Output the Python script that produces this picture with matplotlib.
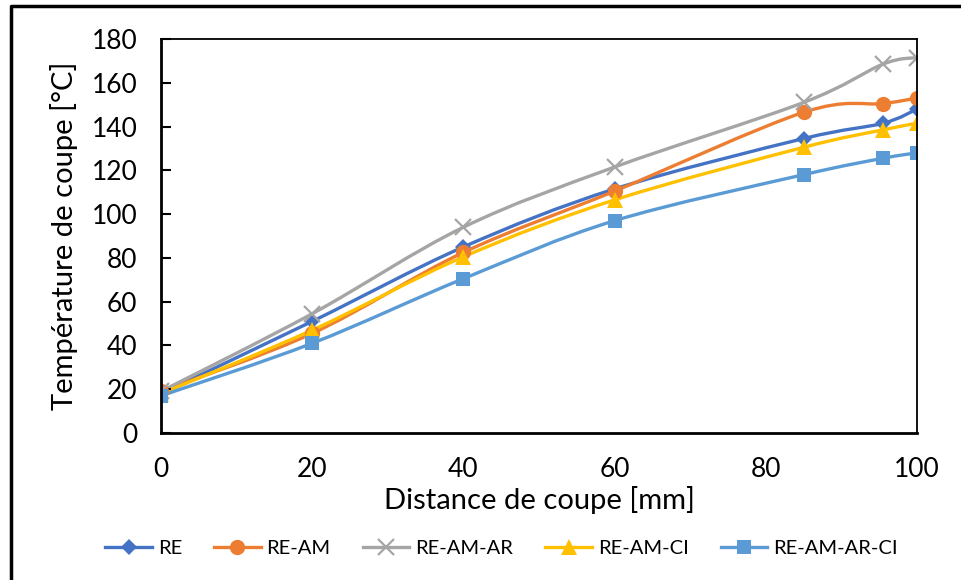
import numpy as np
import matplotlib.pyplot as plt
from matplotlib.path import Path
from matplotlib.patches import PathPatch
from matplotlib.lines import Line2D

plt.rcParams['font.family'] = ['Lato', 'DejaVu Sans']

distance = [0, 20, 40, 60, 85, 95.5, 100]
t_re = [18, 51, 85, 111.5, 134.5, 141.5, 148]
t_re_am = [19, 45.5, 82.5, 110.5, 146.5, 150.5, 153]
t_re_am_ar = [19, 54.5, 94, 121.5, 151, 168.5, 171.5]
t_re_am_ci = [18, 47, 80.5, 106.5, 130.5, 138.5, 141.5]
t_re_am_ar_ci = [17, 41, 70.5, 97, 118, 125.5, 128]

series = [
    ('RE', t_re, '#4472C4', 'D', 8.5),
    ('RE-AM', t_re_am, '#ED7D31', 'o', 11),
    ('RE-AM-AR', t_re_am_ar, '#A5A5A5', 'x', 11),
    ('RE-AM-CI', t_re_am_ci, '#FFC000', '^', 11),
    ('RE-AM-AR-CI', t_re_am_ar_ci, '#5B9BD5', 's', 10),
]


def smooth_path(x, y):
    # Excel-like smoothed line: cubic Bezier through each point
    p = np.column_stack([x, y]).astype(float)
    n = len(p)
    verts = [p[0]]
    codes = [Path.MOVETO]
    for i in range(n - 1):
        p0 = p[i - 1] if i > 0 else p[i]
        p1 = p[i]
        p2 = p[i + 1]
        p3 = p[i + 2] if i + 2 < n else p[i + 1]
        c1 = p1 + (p2 - p0) / 6.0
        c2 = p2 - (p3 - p1) / 6.0
        verts += [c1, c2, p2]
        codes += [Path.CURVE4] * 3
    return Path(verts, codes)


fig = plt.figure(figsize=(9.61, 5.8), dpi=100)
ax = fig.add_axes([0.1675, 0.2534, 0.7867, 0.6794])

handles = []
for name, vals, color, marker, ms in series:
    patch = PathPatch(smooth_path(distance, vals), facecolor='none',
                      edgecolor=color, lw=2.4, capstyle='round', joinstyle='round')
    ax.add_patch(patch)
    mew = 1.6 if marker == 'x' else 0
    ax.plot(distance, vals, linestyle='none', marker=marker, ms=ms,
            color=color, mec=color, mew=mew)
    handles.append(Line2D([], [], color=color, lw=2.4, marker=marker, ms=ms,
                          mec=color, mew=mew, label=name))

ax.set_xlim(0, 100)
ax.set_ylim(0, 180)
ax.set_xticks(np.arange(0, 101, 20))
ax.set_yticks(np.arange(0, 181, 20))
ax.tick_params(axis='y', direction='in', length=7, width=1.5, labelsize=19, pad=17)
ax.tick_params(axis='x', length=0, labelsize=19, pad=17)
for side in ['left', 'bottom']:
    ax.spines[side].set_linewidth(2)
for side in ['top', 'right']:
    ax.spines[side].set_linewidth(1.3)

ax.set_xlabel('Distance de coupe [mm]', fontsize=21, labelpad=3)
ax.set_ylabel('Température de coupe [°C]', fontsize=21, labelpad=10)

fig.legend(handles=handles, loc='center', ncol=5, bbox_to_anchor=(0.522, 1 - 548 / 580),
           frameon=False, fontsize=14.5, handlelength=2.3, columnspacing=1.6,
           handletextpad=0.3)

# outer border of the chart area
fig.add_artist(Line2D([11 / 961, 11 / 961, 1], [0, 1 - 6 / 580, 1 - 6 / 580],
                      transform=fig.transFigure, color='black', lw=2.5))

fig.savefig('out.png', dpi=100)
